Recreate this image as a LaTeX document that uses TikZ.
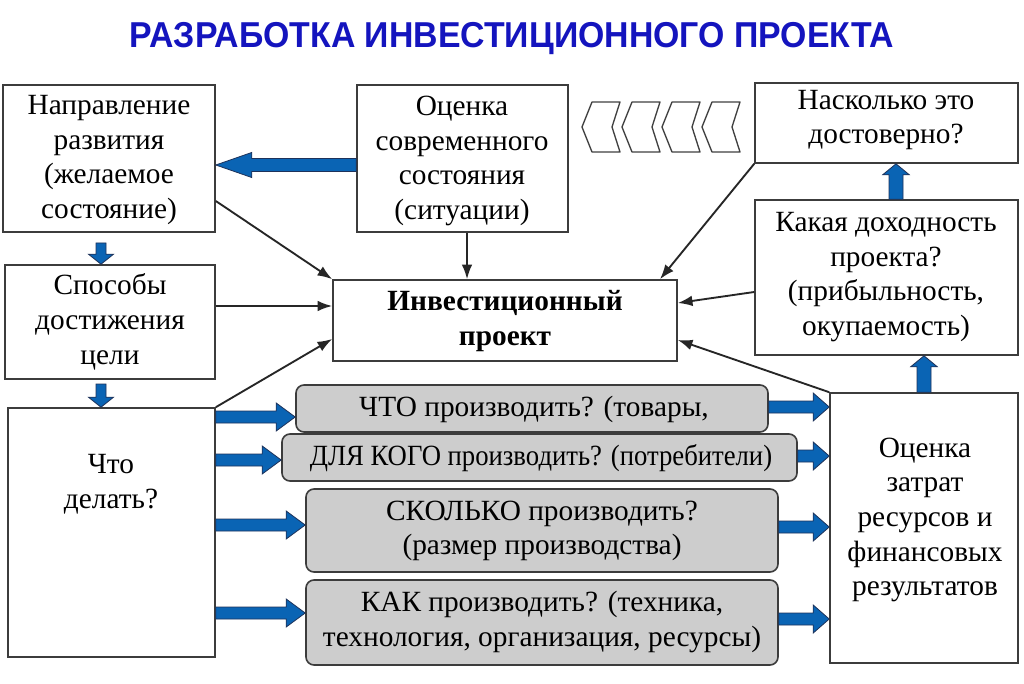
\documentclass[tikz,border=0pt]{standalone}
\usepackage{fontspec}
\setmainfont{Liberation Serif}
\newfontfamily\titlefont{Liberation Sans}[FakeStretch=0.94]
\usetikzlibrary{arrows.meta,calc,fit}
\definecolor{titleblue}{RGB}{20,20,190}
\definecolor{arrblue}{RGB}{10,100,180}
\definecolor{arrline}{RGB}{30,50,90}
\definecolor{boxline}{RGB}{60,60,60}
\definecolor{grayfill}{RGB}{205,205,205}
\tikzset{
  txt/.style={align=center, inner sep=0pt, font=\fontsize{22}{26}\selectfont},
  box/.style={draw=boxline, line width=1.2pt, fill=white, inner sep=0pt},
  graybox/.style={box, fill=grayfill, rounded corners=6pt},
  thinarrow/.style={draw=black!85, line width=1.4pt, -{Latex[length=11pt,width=8pt]}},
  fat/.style={fill=arrblue, draw=arrline, line width=0.6pt},
  chev/.style={draw=black!75, line width=1pt, fill=white, line join=round},
}
% start, end, shaft half, head length, head half
\newcommand\fatarrow[5]{%
  \coordinate (fs) at (#1);
  \coordinate (fe) at (#2);
  \coordinate (fh) at ($(fe)!#4!(fs)$);
  \path[fat] ($(fs)!#3!90:(fe)$) -- ($(fh)!#3!90:(fe)$) -- ($(fh)!#5!90:(fe)$) -- (fe)
    -- ($(fh)!#5!-90:(fe)$) -- ($(fh)!#3!-90:(fe)$) -- ($(fs)!#3!-90:(fe)$) -- cycle;}
\newcommand\arrLeft[2]{\fatarrow{#1}{#2}{4.9pt}{27pt}{9.4pt}}
\newcommand\arrA[2]{\fatarrow{#1}{#2}{4.5pt}{14.25pt}{10.5pt}}
\newcommand\arrB[2]{\fatarrow{#1}{#2}{4.5pt}{12pt}{10.5pt}}
\newcommand\arrUp[2]{\fatarrow{#1}{#2}{5.25pt}{8.25pt}{10pt}}
\newcommand\arrDown[2]{\fatarrow{#1}{#2}{3.75pt}{7.5pt}{9.4pt}}
\begin{document}
\begin{tikzpicture}[x=0.75pt,y=-0.75pt]
\useasboundingbox (0,0) rectangle (1024,684);
\fill[white] (0,0) rectangle (1024,684);

\node[font=\titlefont\bfseries\fontsize{27}{30}\selectfont, text=titleblue, anchor=base, inner sep=0pt] (title) at (512,48) {РАЗРАБОТКА ИНВЕСТИЦИОННОГО ПРОЕКТА};

% boxes
\node[box, fit={(3,85) (215,232)}] (b1) {};
\node[txt] (b1t) at (109,160) {Направление\\развития\\(желаемое\\состояние)};
\node[box, fit={(357,85) (568,232)}] (b2) {};
\node[txt] (b2t) at (462,161) {Оценка\\современного\\состояния\\(ситуации)};
\node[box, fit={(755,83) (1018,163)}] (b3) {};
\node[txt] (b3t) at (886,120) {Насколько это\\достоверно?};
\node[box, fit={(755,200) (1018,355)}] (b4) {};
\node[txt] (b4t) at (886,277) {Какая доходность\\проекта?\\(прибыльность,\\окупаемость)};
\node[box, fit={(5,265) (215,379)}] (sp) {};
\node[txt] (spt) at (110,322) {Способы\\достижения\\цели};
\node[box, fit={(333,280) (677,361)}] (ip) {};
\node[txt, font=\fontsize{22}{26}\selectfont\bfseries] (ipt) at (505,321) {Инвестиционный\\проект};
\node[box, fit={(8,408) (215,657)}] (cd) {};
\node[txt] (cdt) at (111,484) {Что\\делать?};
\node[box, fit={(830,393) (1018,663)}] (rb) {};
\node[txt] (rbt) at (925,520) {Оценка\\затрат\\ресурсов и\\финансовых\\результатов};

\node[graybox, fit={(296,385) (768,432)}] (g1) {};
\node[txt] (g1t) at (534,409) {ЧТО производить? (товары,};
\node[graybox, fit={(282,434) (797,481)}] (g2) {};
\node[txt] (g2t) at (541,458) {\scalebox{0.91}[1]{ДЛЯ КОГО производить? (потребители)}};
\node[graybox, fit={(306,489) (778,572)}] (g3) {};
\node[txt] (g3t) at (542,531) {СКОЛЬКО производить?\\(размер производства)};
\node[graybox, fit={(306,580) (778,665)}] (g4) {};
\node[txt] (g4t) at (542,622) {КАК производить? (техника,\\технология, организация, ресурсы)};

% chevrons
\foreach \t in {582,622,662,702}{
  \draw[chev] (\t,127) -- (\t+10,102) -- (\t+38,102) -- (\t+30,127) -- (\t+38,152) -- (\t+10,152) -- cycle;
}

% thin connectors
\draw[thinarrow] (b1.east |- 0,201) -- (ip.north west);
\draw[thinarrow] (sp.east |- 0,306) -- (ip.west |- 0,306);
\draw[thinarrow] (cd.north east) -- (ip.west |- 0,339);
\draw[thinarrow] (b2.south -| 467,0) -- (ip.north -| 467,0);
\draw[thinarrow] (b3.south west) -- (ip.north -| 660,0);
\draw[thinarrow] (b4.west |- 0,292) -- (ip.east |- 0,303);
\draw[thinarrow] (rb.north west) -- (ip.east |- 0,340);

% fat arrows
\arrLeft{b2.west |- 0,165}{b1.east |- 0,165}
\coordinate (d1) at (101,243);
\arrDown{d1}{sp.north -| d1}
\coordinate (d2) at (101,384);
\arrDown{d2}{cd.north -| d2}
\arrUp{b4.north -| 896,0}{b3.south -| 896,0}
\arrUp{rb.north -| 924,0}{b4.south -| 924,0}

\arrA{cd.east |- 0,417}{g1.west |- 0,417}
\arrA{cd.east |- 0,460}{g2.west |- 0,460}
\arrA{cd.east |- 0,525}{g3.west |- 0,525}
\arrA{cd.east |- 0,613}{g4.west |- 0,613}

\arrB{g1.east |- 0,407}{rb.west |- 0,407}
\arrB{g2.east |- 0,456}{rb.west |- 0,456}
\arrB{g3.east |- 0,527}{rb.west |- 0,527}
\arrB{g4.east |- 0,619}{rb.west |- 0,619}
\end{tikzpicture}
\end{document}
